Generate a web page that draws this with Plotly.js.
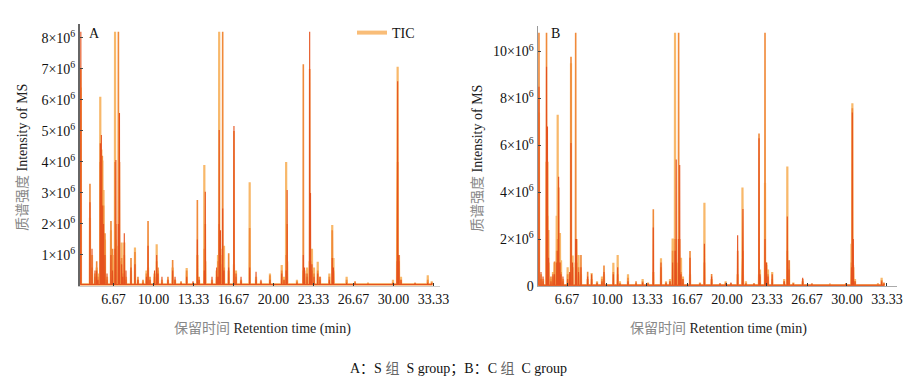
<!DOCTYPE html>
<html>
<head>
<meta charset="utf-8">
<script src="https://cdn.plot.ly/plotly-3.0.1.min.js"></script>
<style>html,body{margin:0;padding:0;background:#fff;}#chart{width:917px;height:391px;}</style>
</head>
<body>
<div id="chart"></div>
<script>
// ---- Data (retention time in min, intensity in units of 10^6) ----
const rtA = [3.95,4.71,4.88,5.13,5.27,5.38,5.57,5.66,5.74,5.84,5.96,6.13,6.46,6.59,6.80,6.87,7.08,7.17,7.35,7.44,7.57,7.71,8.13,8.46,8.71,9.13,9.42,9.55,9.71,10.09,10.27,10.38,10.71,11.21,11.60,11.80,12.30,12.77,13.30,13.66,13.80,14.24,14.32,14.88,15.27,15.38,15.48,15.59,15.77,15.88,16.27,16.71,16.88,17.30,18.02,18.55,18.96,19.71,20.69,20.88,21.06,21.14,21.96,22.49,22.59,22.80,23.02,23.09,23.21,23.38,23.69,23.88,24.66,24.90,25.00,26.10,26.80,27.88,29.96,30.31,30.35,30.46,30.63,31.80,32.86,33.19];
const lightA = [6.4,2.2,1.0,0.4,0.6,0.4,6.1,4.4,4.05,3.1,1.5,0.3,1.8,1.0,8.2,1.5,1.3,0.8,1.4,0.5,1.4,0.3,0.5,1.24,0.2,0.15,0.5,0.6,0.2,0.4,1.35,0.5,0.2,0.2,0.6,0.2,0.1,0.58,0.1,1.0,0.2,3.9,0.8,0.2,0.5,1.0,8.2,1.2,1.0,1.3,0.5,0.7,0.5,0.2,3.35,0.3,0.15,0.4,0.68,0.3,4.0,0.8,0.2,0.5,0.4,0.6,0.8,1.0,1.2,0.6,0.78,0.3,0.4,1.97,0.9,0.3,0.1,0.1,0.2,2.5,7.07,1.0,0.3,0.1,0.35,0.15];
const orangeA = [7.0,3.3,0.6,0.3,0.8,0.3,4.0,3.0,4.2,2.6,1.7,0.2,2.1,1.2,4.0,2.0,8.2,4.0,0.9,0.4,1.0,0.2,0.9,1.1,0.3,0.2,0.4,2.1,0.3,0.3,0.8,0.6,0.1,0.3,0.84,0.2,0.15,0.5,0.1,2.77,0.3,1.2,2.0,0.1,0.3,0.8,2.0,0.7,8.2,0.6,1.06,5.0,0.3,0.15,1.87,0.2,0.1,0.35,0.5,0.2,1.0,2.0,0.15,7.15,0.5,0.3,7.0,0.8,0.5,0.4,0.5,0.2,0.3,1.8,0.5,0.2,0.15,0.1,0.1,1.5,4.0,0.8,0.2,0.05,0.2,0.1];
const redA = [8.2,2.7,1.2,0.5,0.5,0.2,4.6,4.87,2.6,2.0,1.0,0.4,1.0,0.5,1.2,4.06,2.0,5.58,0.7,0.3,1.7,0.5,0.6,0.7,0.2,0.1,0.3,1.3,0.2,0.5,1.0,0.4,0.3,0.2,0.5,0.3,0.1,0.3,0.15,1.5,0.2,0.5,3.04,0.3,0.6,0.3,5.03,1.8,2.5,0.5,0.6,5.16,0.4,0.3,0.6,0.46,0.2,0.2,0.4,0.2,0.5,3.1,0.1,1.0,0.6,0.4,8.2,3.0,0.7,0.3,0.4,0.3,0.2,0.9,0.6,0.1,0.1,0.05,0.1,0.8,6.6,1.0,0.2,0.1,0.1,0.1];

const rtB = [4.33,4.50,4.67,4.96,5.04,5.13,5.33,5.50,5.63,5.81,5.89,5.97,6.08,6.17,6.33,6.72,6.89,7.00,7.13,7.39,7.46,7.63,7.83,8.39,8.72,9.17,9.58,9.75,10.53,10.89,11.08,11.75,12.42,12.97,13.42,13.86,14.50,14.92,15.25,15.47,15.67,15.77,15.97,16.06,16.17,16.33,16.92,17.75,18.12,18.72,19.42,19.89,20.33,20.89,21.29,21.33,21.58,22.25,22.67,22.75,23.17,23.29,23.42,23.77,24.77,25.03,25.17,25.53,26.31,27.08,28.58,29.92,30.38,30.45,30.53,30.67,32.58,32.89,33.08];
const lightB = [7.4,0.5,0.3,5.3,5.3,1.0,0.3,0.6,1.0,3.0,7.3,2.0,2.26,1.1,0.3,0.8,0.5,9.5,1.3,1.0,2.0,1.32,0.5,0.3,0.55,0.2,0.4,0.5,0.99,1.32,0.2,0.5,0.1,0.3,0.15,0.6,1.18,0.2,0.3,2.03,10.8,2.0,1.0,1.0,1.2,0.4,0.5,0.15,3.55,0.3,0.1,0.2,0.1,0.5,4.2,0.5,0.2,0.1,0.5,0.7,4.4,1.0,0.7,0.6,0.3,5.1,1.1,0.15,0.2,0.1,0.05,0.1,1.8,7.79,0.8,0.3,0.1,0.35,0.1];
const orangeB = [10.8,0.3,0.2,10.8,3.0,2.39,0.4,0.4,1.04,1.5,2.0,4.2,1.0,0.6,0.2,0.5,0.3,9.78,0.8,10.8,1.0,0.8,1.32,0.61,0.3,0.1,0.3,0.87,0.6,0.5,0.1,0.35,0.2,0.2,0.1,3.27,0.8,0.1,0.2,1.5,2.0,1.0,10.8,2.0,0.6,0.3,1.49,0.1,1.0,0.51,0.1,0.15,0.1,1.5,1.0,1.5,0.1,0.1,6.51,0.4,10.8,0.9,0.5,0.3,0.2,1.5,0.7,0.1,0.3,0.05,0.1,0.1,1.0,7.58,0.9,0.2,0.1,0.25,0.15];
const redB = [8.5,0.6,0.4,9.35,6.8,1.2,0.2,0.5,0.5,1.0,1.5,4.66,1.0,0.5,0.4,0.3,0.6,6.1,1.0,2.0,2.0,0.6,0.8,0.4,0.5,0.15,0.2,0.6,0.5,0.8,0.1,0.2,0.1,0.15,0.1,2.5,1.0,0.15,0.2,1.0,1.5,5.4,2.0,5.16,0.5,0.3,1.2,0.1,1.8,0.4,0.1,0.1,0.15,2.17,0.8,3.28,0.1,0.1,6.3,0.5,2.0,1.0,0.4,0.5,0.2,2.96,1.1,0.1,0.35,0.1,0.05,0.1,0.8,7.4,2.0,0.2,0.05,0.2,0.1];

const xTickVals = [6.67,10.00,13.33,16.67,20.00,23.33,26.67,30.00,33.33];
const xTickText = ['6.67','10.00','13.33','16.67','20.00','23.33','26.67','30.00','33.33'];
const yTickValsA = [1,2,3,4,5,6,7,8];
const yTickTextA = yTickValsA.map(v => v + '×10<sup>6</sup>');
const yTickValsB = [0,2,4,6,8,10];
const yTickTextB = yTickValsB.map(v => v === 0 ? '0' : v + '×10<sup>6</sup>');

// ---- Build chromatogram spikes from the peak tables ----
function spikes(rt, h, base, w) {
  const x = [], y = [];
  for (let i = 0; i < rt.length; i++) {
    x.push(rt[i] - w, rt[i], rt[i] + w);
    y.push(base, h[i], base);
  }
  return {x, y};
}
const W = 0.015;
const cLight = '#F8B86A', cOrange = '#F08A3A', cRed = '#E5521E';
const FONT = "'Liberation Serif', 'Times New Roman', 'Noto Sans CJK SC', serif";

function series(rt, h, base, color, width, xa, ya) {
  const s = spikes(rt, h, base, W);
  return {type:'scatter', mode:'lines', x:s.x, y:s.y, xaxis:xa, yaxis:ya,
          line:{color:color, width:width}, showlegend:false, hoverinfo:'skip'};
}

const data = [
  series(rtA, lightA, 0.05, cLight, 2.2, 'x', 'y'),
  series(rtA, orangeA, 0.05, cOrange, 1.6, 'x', 'y'),
  series(rtA, redA, 0.05, cRed, 1.1, 'x', 'y'),
  series(rtB, lightB, 0.03, cLight, 2.2, 'x2', 'y2'),
  series(rtB, orangeB, 0.03, cOrange, 1.6, 'x2', 'y2'),
  series(rtB, redB, 0.03, cRed, 1.1, 'x2', 'y2'),
  {type:'scatter', mode:'lines', x:[null], y:[null], xaxis:'x', yaxis:'y',
   name:'TIC', line:{color:'#F9BD78', width:4}, showlegend:true}
];

const W0 = 917, H0 = 391;
const px = v => v / W0, py = v => 1 - v / H0;

const xCommon = {
  tickvals:xTickVals, ticktext:xTickText, ticks:'inside', ticklen:3, tickcolor:'#333',
  showline:true, linewidth:1, showgrid:false, zeroline:false,
  tickfont:{family:FONT, size:14, color:'#111'}, fixedrange:true
};
const yCommon = {
  ticks:'inside', ticklen:3, tickcolor:'#444', showline:true, showgrid:false, zeroline:false,
  tickfont:{family:FONT, size:14, color:'#111'}, fixedrange:true
};

const xTitle = '<span style="color:#888">保留时间</span> Retention time (min)';
const yTitle = '<span style="color:#888">质谱强度</span> Intensity of MS';

function ann(text, x, y, extra) {
  return Object.assign({text:text, x:px(x), y:py(y), xref:'paper', yref:'paper', showarrow:false,
    xanchor:'center', yanchor:'middle', font:{family:FONT, size:14, color:'#222'}}, extra || {});
}

const layout = {
  width:W0, height:H0, margin:{l:0, r:0, t:0, b:0},
  paper_bgcolor:'#fff', plot_bgcolor:'#fff',
  font:{family:FONT, size:14, color:'#222'},
  xaxis:Object.assign({}, xCommon, {domain:[px(80), px(440)], range:[3.88, 33.88], anchor:'y', linecolor:'#ccc'}),
  yaxis:Object.assign({}, yCommon, {domain:[py(286), py(24)], range:[0, 8.45], anchor:'x',
        tickvals:yTickValsA, ticktext:yTickTextA, linecolor:'#666', linewidth:2}),
  xaxis2:Object.assign({}, xCommon, {domain:[px(538), px(897)], range:[4.25, 34.17], anchor:'y2', linecolor:'#aaa'}),
  yaxis2:Object.assign({}, yCommon, {domain:[py(286), py(26)], range:[0, 11.09], anchor:'x2',
        tickvals:yTickValsB, ticktext:yTickTextB, linecolor:'#999', linewidth:1.5}),
  showlegend:true,
  legend:{x:px(352), y:py(17), xanchor:'left', yanchor:'top', bgcolor:'rgba(0,0,0,0)',
          font:{family:FONT, size:14, color:'#111'}},
  annotations:[
    ann('A', 94, 34, {font:{family:FONT, size:14, color:'#111'}}),
    ann('B', 555, 34, {font:{family:FONT, size:14, color:'#111'}}),
    ann(xTitle, 262, 329),
    ann(xTitle, 718, 329),
    ann(yTitle, 22, 158, {textangle:-90}),
    ann(yTitle, 477, 158, {textangle:-90}),
    ann('A：S <span style="color:#666">组</span>  S group；B：C <span style="color:#666">组</span>  C group', 458, 369, {font:{family:FONT, size:14, color:'#111'}})
  ]
};

Plotly.newPlot('chart', data, layout, {displayModeBar:false, staticPlot:true});
</script>
</body>
</html>
